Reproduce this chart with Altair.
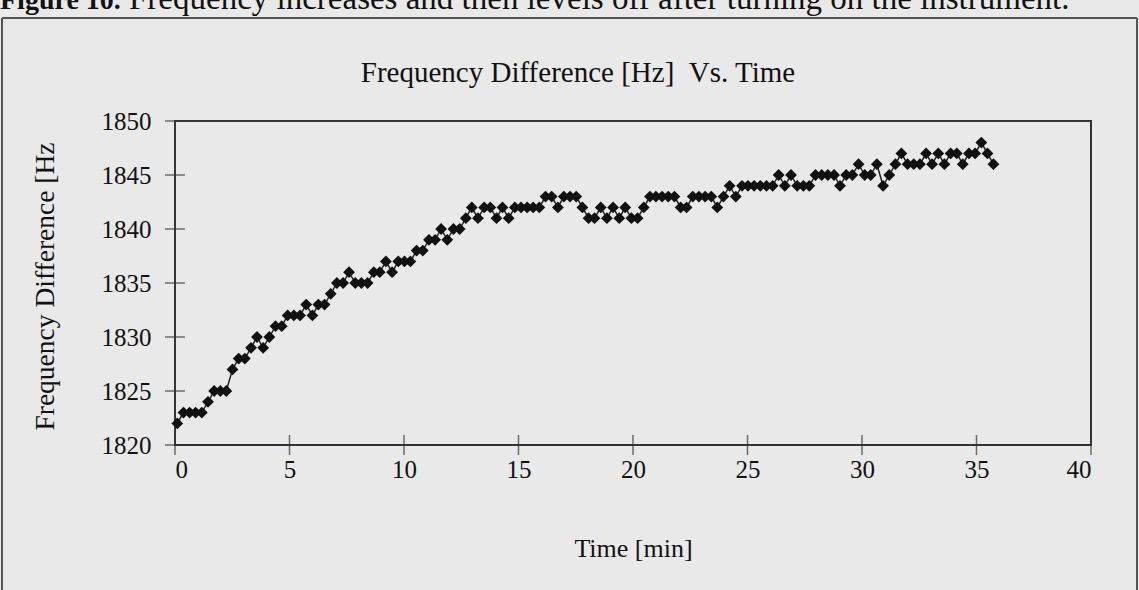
import altair as alt
import pandas as pd

# ---- data ----
minutes = [0.10, 0.37, 0.64, 0.90, 1.17, 1.44, 1.71, 1.98, 2.24, 2.51,
           2.78, 3.05, 3.32, 3.58, 3.85, 4.12, 4.39, 4.66, 4.92, 5.19,
           5.46, 5.73, 6.00, 6.26, 6.53, 6.80, 7.07, 7.34, 7.60, 7.87,
           8.14, 8.41, 8.68, 8.94, 9.21, 9.48, 9.75, 10.02, 10.28, 10.55,
           10.82, 11.09, 11.36, 11.62, 11.89, 12.16, 12.43, 12.70, 12.96, 13.23,
           13.50, 13.77, 14.04, 14.30, 14.57, 14.84, 15.11, 15.38, 15.64, 15.91,
           16.18, 16.45, 16.72, 16.98, 17.25, 17.52, 17.79, 18.06, 18.32, 18.59,
           18.86, 19.13, 19.40, 19.66, 19.93, 20.20, 20.47, 20.74, 21.00, 21.27,
           21.54, 21.81, 22.08, 22.34, 22.61, 22.88, 23.15, 23.42, 23.68, 23.95,
           24.22, 24.49, 24.76, 25.02, 25.29, 25.56, 25.83, 26.10, 26.36, 26.63,
           26.90, 27.17, 27.44, 27.70, 27.97, 28.24, 28.51, 28.78, 29.04, 29.31,
           29.58, 29.85, 30.12, 30.38, 30.65, 30.92, 31.19, 31.46, 31.72, 31.99,
           32.26, 32.53, 32.80, 33.06, 33.33, 33.60, 33.87, 34.14, 34.40, 34.67,
           34.94, 35.21, 35.48, 35.74]

freq_a = [1822, 1823, 1823, 1823, 1823, 1824, 1825, 1825, 1825, 1827,
          1828, 1828, 1829, 1830, 1829, 1830, 1831, 1831, 1832, 1832, 1832]
freq_b = [1833, 1832, 1833, 1833, 1834, 1835, 1835, 1836, 1835, 1835,
          1835, 1836, 1836, 1837, 1836, 1837, 1837, 1837, 1838, 1838,
          1839, 1839, 1840, 1839, 1840]
freq_c = [1840, 1841, 1842, 1841, 1842, 1842, 1841, 1842, 1841, 1842,
          1842, 1842, 1842, 1842, 1843, 1843, 1842, 1843, 1843, 1843,
          1842, 1841, 1841]
freq_d = [1842, 1841, 1842, 1841, 1842, 1841, 1841, 1842, 1843, 1843,
          1843, 1843, 1843, 1842, 1842, 1843, 1843, 1843, 1843, 1842]
freq_e = [1843, 1844, 1843, 1844, 1844, 1844, 1844, 1844, 1844, 1845,
          1844, 1845, 1844, 1844, 1844, 1845, 1845, 1845, 1845, 1844,
          1845, 1845, 1846, 1845, 1845]
freq_f = [1846, 1844, 1845, 1846, 1847, 1846, 1846, 1846, 1847, 1846,
          1847, 1846, 1847, 1847, 1846, 1847, 1847, 1848, 1847, 1846]

x_ticks = [0, 5, 10, 15, 20, 25, 30, 35, 40]
y_ticks = [1820, 1825, 1830, 1835, 1840, 1845, 1850]

chart_title = "Frequency Difference [Hz]\u00a0\u00a0Vs. Time"
x_title = "Time [min]"
y_title = "Frequency Difference [Hz"
caption_bold = "Figure 10."
caption_rest = "Frequency increases and then levels off after turning on the instrument."

freq = freq_a + freq_b + freq_c + freq_d + freq_e + freq_f
df = pd.DataFrame({"t": minutes, "f": freq})

FONT = "Liberation Serif"
W, H = 916, 324
PAD = {"left": 175, "top": 121, "right": 48, "bottom": 145}

xscale = alt.Scale(domain=[0, 40], nice=False, zero=False)
yscale = alt.Scale(domain=[1820, 1850], nice=False, zero=False)

x_axis = alt.Axis(values=x_ticks, ticks=False, domain=False, grid=False,
                  labelFont=FONT, labelFontSize=25, labelColor="#111",
                  labelPadding=12, title=x_title, titleFont=FONT,
                  titleFontSize=26, titleFontWeight="normal", titleColor="#111",
                  titleY=103, titleBaseline="middle")
y_axis = alt.Axis(values=y_ticks, format="d", ticks=False, domain=False, grid=False,
                  labelFont=FONT, labelFontSize=25, labelColor="#111",
                  labelPadding=24, title=y_title, titleFont=FONT,
                  titleFontSize=27.5, titleFontWeight="normal", titleColor="#111",
                  titleX=-130, titleY=H / 2 + 3, titleAngle=270,
                  titleBaseline="middle", titleAlign="center")

base = alt.Chart(df)

line = base.mark_line(color="#222", strokeWidth=1.5).encode(
    x=alt.X("t:Q", scale=xscale, axis=x_axis),
    y=alt.Y("f:Q", scale=yscale, axis=y_axis),
)
pts = base.mark_point(shape="diamond", filled=True, size=140, color="#111",
                      opacity=1).encode(
    x=alt.X("t:Q", scale=xscale),
    y=alt.Y("f:Q", scale=yscale),
)

xt = alt.Chart(pd.DataFrame({"v": x_ticks})).mark_tick(
    orient="vertical", size=20, thickness=1.5, color="#333").encode(
    x=alt.X("v:Q", scale=xscale), y=alt.value(H))
yt = alt.Chart(pd.DataFrame({"v": y_ticks})).mark_tick(
    orient="horizontal", size=20, thickness=1.5, color="#333").encode(
    y=alt.Y("v:Q", scale=yscale), x=alt.value(0))

title_txt = alt.Chart(pd.DataFrame({"s": [chart_title]})).mark_text(
    font=FONT, fontSize=29, color="#111", align="center", baseline="middle").encode(
    text="s:N", x=alt.value(403), y=alt.value(-48))

cap1 = alt.Chart(pd.DataFrame({"s": [caption_bold]})).mark_text(
    font=FONT, fontSize=28, fontWeight="bold", color="#111", align="left",
    baseline="alphabetic").encode(text="s:N", x=alt.value(-175), y=alt.value(-112))
cap2 = alt.Chart(pd.DataFrame({"s": [caption_rest]})).mark_text(
    font=FONT, fontSize=33, color="#111", align="left",
    baseline="alphabetic").encode(text="s:N", x=alt.value(-46), y=alt.value(-112))

frame_top = alt.Chart(pd.DataFrame({"k": [0]})).mark_rule(
    color="#555", strokeWidth=2).encode(
    x=alt.value(-173), x2=alt.value(W + 46), y=alt.value(-103))
frame_left = alt.Chart(pd.DataFrame({"k": [0]})).mark_rule(
    color="#555", strokeWidth=2).encode(
    x=alt.value(-173), y=alt.value(-103), y2=alt.value(H + 160))
frame_right = alt.Chart(pd.DataFrame({"k": [0]})).mark_rule(
    color="#555", strokeWidth=2).encode(
    x=alt.value(W + 46), y=alt.value(-103), y2=alt.value(H + 160))

chart = alt.layer(
    frame_top, frame_left, frame_right, cap1, cap2, title_txt,
    line, pts, xt, yt
).properties(
    width=W, height=H,
    autosize=alt.AutoSizeParams(type="none"),
    padding=PAD,
    background="#e9e9e9",
).configure_view(
    stroke="#333", strokeWidth=2, fill="#e9e9e9"
)

chart.save("out.html", embed_options={"renderer": "svg", "actions": False})
